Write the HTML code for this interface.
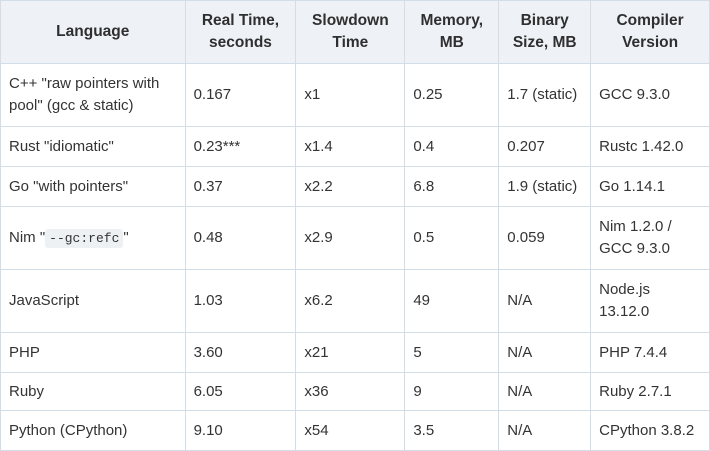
<!DOCTYPE html>
<html><head><meta charset="utf-8"><style>
html,body{margin:0;padding:0;background:#fff;width:710px;height:450px;overflow:hidden}
table{border-collapse:collapse;table-layout:fixed;font-family:"Liberation Sans",sans-serif;font-size:15px;color:#333;position:absolute;left:0;top:0}
td,th{border:1px solid #d3dde8;padding:0 8px;line-height:22px;vertical-align:middle;text-align:left}
th{background:#eef2f7;font-weight:bold;text-align:center;color:#2f2f2f;font-size:15.5px}
tr.h63 td{height:62px}
tr.h40 td{height:39px}
code{font-family:"Liberation Mono",monospace;font-size:13px;background:#eef1f4;border-radius:3px;padding:2px 4px}
</style></head><body>
<table>
<colgroup><col style="width:185px"><col style="width:111px"><col style="width:109px"><col style="width:94px"><col style="width:92px"><col style="width:119px"></colgroup>
<tr style="height:63px">
<th>Language</th>
<th>Real Time,<br>seconds</th>
<th>Slowdown<br>Time</th>
<th>Memory,<br>MB</th>
<th>Binary<br>Size, MB</th>
<th>Compiler<br>Version</th></tr>
<tr class="h63"><td>C++ "raw pointers with pool" (gcc &amp; static)</td><td>0.167</td><td>x1</td><td>0.25</td><td>1.7 (static)</td><td>GCC 9.3.0</td></tr>
<tr class="h40"><td>Rust "idiomatic"</td><td>0.23***</td><td>x1.4</td><td>0.4</td><td>0.207</td><td>Rustc 1.42.0</td></tr>
<tr class="h40"><td>Go "with pointers"</td><td>0.37</td><td>x2.2</td><td>6.8</td><td>1.9 (static)</td><td>Go 1.14.1</td></tr>
<tr class="h63"><td>Nim "<code>--gc:refc</code>"</td><td>0.48</td><td>x2.9</td><td>0.5</td><td>0.059</td><td>Nim 1.2.0 / GCC 9.3.0</td></tr>
<tr class="h63"><td>JavaScript</td><td>1.03</td><td>x6.2</td><td>49</td><td>N/A</td><td>Node.js 13.12.0</td></tr>
<tr class="h40"><td>PHP</td><td>3.60</td><td>x21</td><td>5</td><td>N/A</td><td>PHP 7.4.4</td></tr>
<tr><td style="height:37px">Ruby</td><td>6.05</td><td>x36</td><td>9</td><td>N/A</td><td>Ruby 2.7.1</td></tr>
<tr class="h40"><td>Python (CPython)</td><td>9.10</td><td>x54</td><td>3.5</td><td>N/A</td><td>CPython 3.8.2</td></tr>
</table>
</body></html>
